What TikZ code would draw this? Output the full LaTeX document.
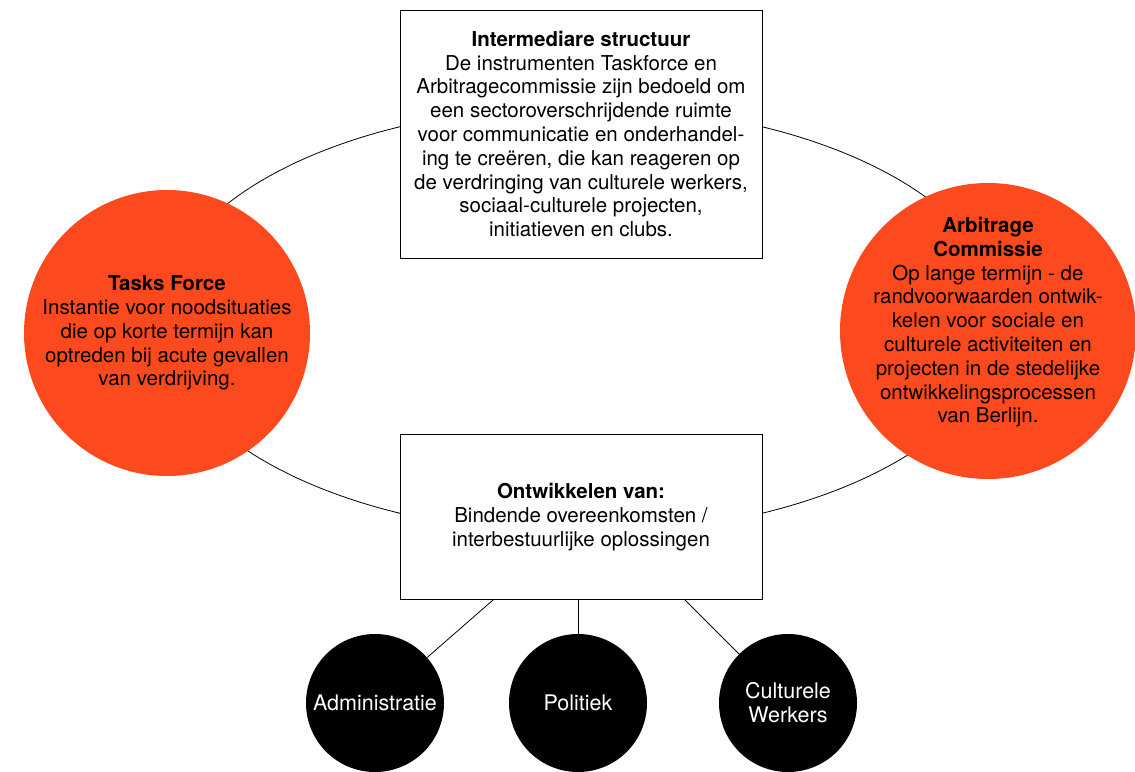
\documentclass[tikz,border=0pt]{standalone}
\usepackage{fontspec}
\setmainfont{TeX Gyre Heros}
\definecolor{taskred}{RGB}{252,74,30}

\begin{document}
\begin{tikzpicture}[x=1pt,y=-1pt] % overleg- en arbitragestructuur
\tikzstyle{every node}+=[align=center,font=\fontsize{20.5}{23.8}\selectfont]
\tikzstyle{infobox}=[draw=black,fill=white,line width=1pt,inner sep=0pt]
\tikzstyle{redcircle}=[circle,fill=taskred,inner sep=-30pt,minimum size=286pt]
\tikzstyle{blackcircle}=[circle,fill=black,text=white,inner sep=0pt,minimum size=138pt,
  font=\fontsize{21.5}{24}\selectfont]
\useasboundingbox (0,0) rectangle (1135,771);
\draw [black,line width=0.8pt] (581,320) ellipse (421 and 214);
\node [infobox,minimum width=362pt,minimum height=248pt] (struct) at (581,134)
  {\textbf{Intermediare structuur}\\De instrumenten Taskforce en\\Arbitragecommissie zijn bedoeld om\\een sectoroverschrijdende ruimte\\voor communicatie en onderhandel-\\ing te creëren, die kan reageren op\\de verdringing van culturele werkers,\\sociaal-culturele projecten,\\initiatieven en clubs.};
\node [infobox,minimum width=362pt,minimum height=165pt] (ontw) at (581,517)
  {\textbf{Ontwikkelen van:}\\Bindende overeenkomsten /\\interbestuurlijke oplossingen};
\node [redcircle] (task) at (167,333)
  {\textbf{Tasks Force}\\Instantie voor noodsituaties\\die op korte termijn kan\\optreden bij acute gevallen\\van verdrijving.};
\node [redcircle,minimum size=296pt] (arbi) at (988,331)
  {\textbf{Arbitrage}\\\textbf{Commissie}\\Op lange termijn - de\\randvoorwaarden ontwik-\\kelen voor sociale en\\culturele activiteiten en\\projecten in de stedelijke\\ontwikkelingsprocessen\\van Berlijn.\rule[-22pt]{0pt}{0pt}};
\node [blackcircle] (admin) at (375,703) {Administratie};
\node [blackcircle] (poli) at (578,703) {Politiek};
\node [blackcircle] (cult) at (788,703) {Culturele\\Werkers};
\draw [black,line width=0.8pt] ([xshift=-88pt]ontw.south) -- (admin);
\draw [black,line width=0.8pt] (ontw.south -| poli) -- (poli);
\draw [black,line width=0.8pt] ([xshift=104pt]ontw.south) -- (cult);
\end{tikzpicture}
\end{document}
